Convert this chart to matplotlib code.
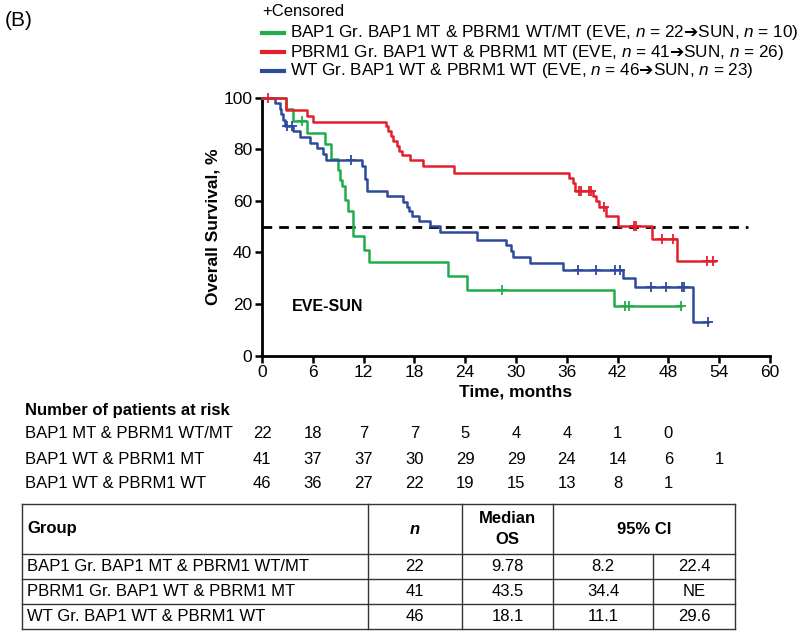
import numpy as np
import matplotlib
matplotlib.use('Agg')
import matplotlib.pyplot as plt
import matplotlib.transforms as mtransforms

plt.rcParams['font.family'] = ['Liberation Sans', 'DejaVu Sans']
plt.rcParams['mathtext.fontset'] = 'custom'
plt.rcParams['mathtext.rm'] = 'Liberation Sans'
plt.rcParams['mathtext.it'] = 'Liberation Sans:italic'
plt.rcParams['mathtext.bf'] = 'Liberation Sans:bold'
plt.rcParams['mathtext.sf'] = 'DejaVu Sans'

# Kaplan-Meier steps (months, % alive)
green_t = [0, 2.8, 3.7, 5.3, 7.4, 8.2, 9.0, 9.2, 9.4, 9.8, 10.2, 10.8, 12.0, 12.6, 22.0, 24.2, 41.6, 49.5]
green_s = [100, 95.5, 90.9, 86.4, 81.8, 76.0, 72.1, 68.2, 65.6, 60.4, 55.9, 46.2, 41.0, 36.1, 30.7, 25.5, 19.3, 19.3]
green_cens = [4.7, 28.3, 42.9, 43.3, 49.5]

red_t = [0, 2.8, 5.3, 6.0, 14.6, 14.9, 15.2, 15.5, 15.9, 16.2, 16.5, 17.5, 19.0, 22.7,
         36.3, 36.7, 37.0, 39.1, 39.5, 39.8, 40.6, 42.1, 46.1, 49.0, 53.5]
red_s = [100, 95.1, 92.7, 90.4, 88.9, 87.0, 85.0, 83.1, 81.1, 79.2, 77.9, 75.8, 73.4, 70.9,
         68.9, 66.9, 63.7, 61.7, 59.8, 57.5, 54.2, 50.3, 45.3, 36.5, 36.5]
red_cens = [0.7, 37.4, 37.7, 38.6, 38.9, 40.4, 43.9, 44.2, 47.3, 48.5, 52.6, 53.3]

blue_t = [0, 1.5, 2.1, 2.3, 2.5, 2.7, 3.7, 4.5, 5.7, 6.5, 7.2, 7.6, 11.8, 12.2, 12.4, 14.8,
          16.6, 17.1, 17.4, 17.7, 18.6, 19.8, 21.0, 25.4, 28.8, 29.4, 29.7, 31.6, 35.5,
          42.6, 44.0, 50.9, 52.7]
blue_s = [100, 97.8, 95.7, 93.5, 91.3, 89.1, 86.9, 84.7, 82.5, 80.3, 78.1, 75.9, 73.5, 68.6, 63.7, 61.7,
          59.4, 57.6, 55.9, 54.0, 52.0, 50.1, 47.9, 45.0, 43.0, 40.6, 38.2, 35.9, 33.3,
          30.0, 26.8, 13.2, 13.2]
blue_cens = [2.9, 3.6, 10.5, 37.3, 39.4, 41.7, 42.3, 46.0, 47.7, 49.6, 49.9, 52.7]

colors = ['#21ad4b', '#e41f2d', '#2d4a9b']

legend_names = ['BAP1 Gr. BAP1 MT & PBRM1 WT/MT', 'PBRM1 Gr. BAP1 WT & PBRM1 MT', 'WT Gr. BAP1 WT & PBRM1 WT']
eve_n = [22, 41, 46]
sun_n = [10, 26, 23]

# patients at risk
risk_times = [0, 6, 12, 18, 24, 30, 36, 42, 48, 54]
risk_labels = ['BAP1 MT & PBRM1 WT/MT', 'BAP1 WT & PBRM1 MT', 'BAP1 WT & PBRM1 WT']
risk_green = [22, 18, 7, 7, 5, 4, 4, 1, 0]
risk_red = [41, 37, 37, 30, 29, 29, 24, 14, 6, 1]
risk_blue = [46, 36, 27, 22, 19, 15, 13, 8, 1]

# summary table
tab_n = [22, 41, 46]
tab_median = ['9.78', '43.5', '18.1']
tab_ci_lo = ['8.2', '34.4', '11.1']
tab_ci_hi = ['22.4', 'NE', '29.6']

fig = plt.figure(figsize=(8, 6.32), dpi=100)
W, H = 800, 632
ov = fig.add_axes([0, 0, 1, 1])
ov.set_xlim(0, W)
ov.set_ylim(H, 0)
ov.axis('off')

ax = fig.add_axes([262 / W, 1 - 355.7 / H, 508 / W, (355.7 - 97.5) / H])


def km(t, s, cens, color):
    ax.step(t, s, where='post', color=color, lw=1.8, clip_on=False, zorder=3)
    ta = np.array(t)
    sa = np.array(s)
    idx = np.searchsorted(ta, cens, side='right') - 1
    ax.plot(cens, sa[idx], '+', color=color, ms=7, mew=1.3, clip_on=False, zorder=4)


ax.plot([0, 57.4], [50, 50], color='black', lw=2, dashes=(3.5, 2.5), zorder=2)
km(green_t, green_s, green_cens, colors[0])
km(blue_t, blue_s, blue_cens, colors[2])
km(red_t, red_s, red_cens, colors[1])

ax.set_xlim(0, 60)
ax.set_ylim(0, 100)
ax.set_xticks(range(0, 61, 6))
ax.set_yticks(range(0, 101, 20))
for sp in ['top', 'right']:
    ax.spines[sp].set_visible(False)
for sp in ['left', 'bottom']:
    ax.spines[sp].set_linewidth(2)
ax.tick_params(width=1.8, length=5, labelsize=12.5, pad=2)
ax.set_ylabel('Overall Survival, %', fontsize=12.5, fontweight='bold', labelpad=2)
ax.set_xlabel('Time, months', fontsize=12.5, fontweight='bold', labelpad=3)
ax.text(3.5, 19, 'EVE-SUN', fontsize=11.5, fontweight='bold', va='center')

# panel tag and legend
ov.text(5, 20, '(B)', fontsize=15, va='center')
ov.text(262, 12, '+Censored', fontsize=12, va='center')
for i, (nm, e, s_) in enumerate(zip(legend_names, eve_n, sun_n)):
    y = 33 + 19 * i
    ov.plot([262, 284], [y, y], color=colors[i], lw=3)
    ov.text(290, y, nm + ' (EVE, $n$ = %d$\\mathsf{➔}$SUN, $n$ = %d)' % (e, s_),
            fontsize=12.3, va='center')

# risk table
bt = mtransforms.blended_transform_factory(ax.transData, ov.transData)
ov.text(25, 410, 'Number of patients at risk', fontsize=12, fontweight='bold', va='center')
for i, (lab, vals) in enumerate(zip(risk_labels, [risk_green, risk_red, risk_blue])):
    y = 434 + 25 * i
    ov.text(25, y, lab, fontsize=12, va='center')
    for t, v in zip(risk_times, vals):
        ov.text(t, y, str(v), transform=bt, fontsize=12, ha='center', va='center')

# summary table
xl, xg, xn, xm, xc, xr = 22, 368, 462, 553, 653, 735
ys = [504, 554, 579, 604, 629]
lc = '#333333'
for y in ys:
    ov.plot([xl, xr], [y, y], color=lc, lw=1)
for x in [xl, xg, xn, xm, xr]:
    ov.plot([x, x], [ys[0], ys[-1]], color=lc, lw=1)
ov.plot([xc, xc], [ys[1], ys[-1]], color=lc, lw=1)

hy = (ys[0] + ys[1]) / 2
ov.text(xl + 5, hy, 'Group', fontsize=12, fontweight='bold', va='center')
ov.text((xg + xn) / 2, hy, 'n', fontsize=12, fontweight='bold', style='italic', ha='center', va='center')
ov.text((xn + xm) / 2, hy, 'Median\nOS', fontsize=12, fontweight='bold', ha='center', va='center', linespacing=1.5)
ov.text((xm + xr) / 2, hy, '95% CI', fontsize=12, fontweight='bold', ha='center', va='center')
for i in range(3):
    y = (ys[i + 1] + ys[i + 2]) / 2
    ov.text(xl + 5, y, legend_names[i], fontsize=12, va='center')
    ov.text((xg + xn) / 2, y, str(tab_n[i]), fontsize=12, ha='center', va='center')
    ov.text((xn + xm) / 2, y, tab_median[i], fontsize=12, ha='center', va='center')
    ov.text((xm + xc) / 2, y, tab_ci_lo[i], fontsize=12, ha='center', va='center')
    ov.text((xc + xr) / 2, y, tab_ci_hi[i], fontsize=12, ha='center', va='center')

fig.savefig('out.png', dpi=100)
